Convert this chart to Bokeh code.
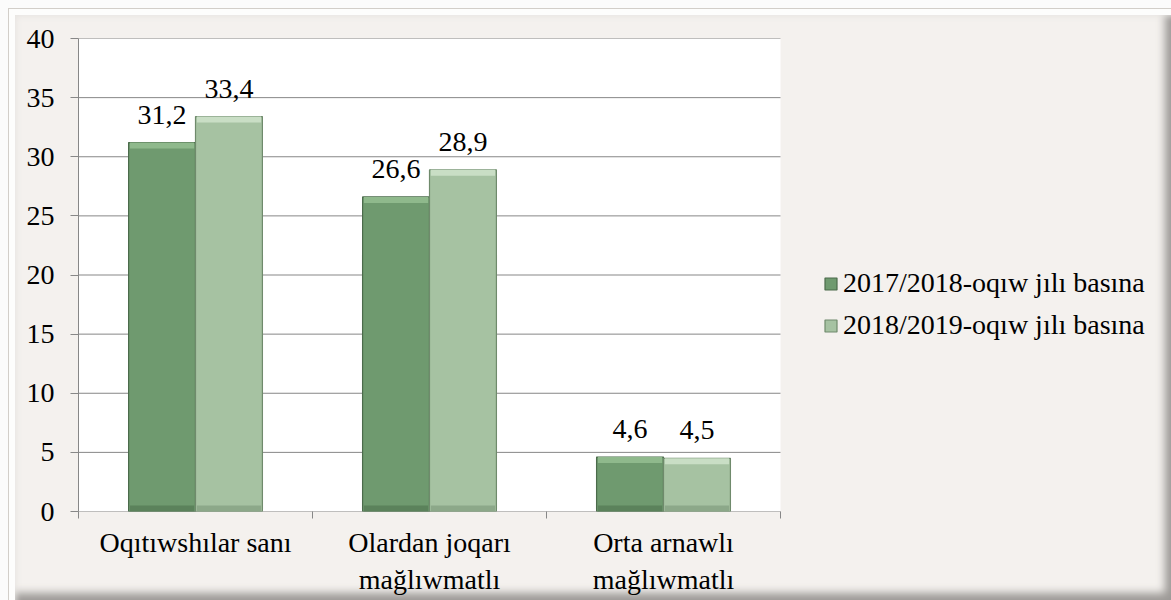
from bokeh.plotting import figure
from bokeh.models import ColumnDataSource, FixedTicker, Range1d, Legend, LegendItem
from bokeh.core.properties import value
from bokeh.embed import file_html
from bokeh.resources import INLINE

categories = ["Oqıtıwshılar sanı", "Olardan joqarı\nmağlıwmatlı", "Orta arnawlı\nmağlıwmatlı"]
series_names = ["2017/2018-oqıw jılı basına", "2018/2019-oqıw jılı basına"]
values_2017 = [31.2, 26.6, 4.6]
values_2018 = [33.4, 28.9, 4.5]
y_ticks = [0, 5, 10, 15, 20, 25, 30, 35, 40]

FONT = "Liberation Serif"
BG = "#f4f1ee"
DARK = "#6f9a6f"
DARK_LINE = "#4b6b4b"
DARK_HI = "#8fb98c"
DARK_LO = "#5b825b"
LIGHT = "#a6c2a2"
LIGHT_LINE = "#6f8a6c"
LIGHT_HI = "#c9dec5"
LIGHT_LO = "#8ca889"
GRID = "#878787"

W, H = 1171, 600
LEFT, TOP, PLOT_RIGHT, BOTTOM = 78, 38, 780, 511
BEVEL_PX = 6

n = len(categories)
ymax = y_ticks[-1]
centers = [i + 0.5 for i in range(n)]
bar_w = 0.286
dodge = bar_w / 2
x_end = n * (W - LEFT) / (PLOT_RIGHT - LEFT)
bevel = BEVEL_PX * ymax / (BOTTOM - TOP)

def fmt(v):
    return ("%.1f" % v).replace(".", ",")

def make_src(vals, shift):
    return ColumnDataSource(dict(
        x=[c + shift for c in centers], top=vals,
        hi_bottom=[v - bevel for v in vals],
        lo_top=[bevel for v in vals],
        lab=[fmt(v) for v in vals]))

src1 = make_src(values_2017, -dodge)
src2 = make_src(values_2018, dodge)

p = figure(width=W, height=H, output_backend="svg", toolbar_location=None,
           x_range=Range1d(0, x_end), y_range=Range1d(0, ymax),
           min_border_left=LEFT, min_border_right=0, min_border_top=TOP,
           min_border_bottom=H - BOTTOM,
           border_fill_alpha=0, background_fill_alpha=0, outline_line_color=None)
p.styles = {
    "background-color": BG,
    "box-shadow": ("inset 8px 8px 0 0 #fbfbfb, inset 9px 9px 0 0 #d2cec9, "
                   "inset 15px 15px 0 0 #fdfdfc, inset 20px 20px 6px -4px #e6e3e0, "
                   "inset -9px -10px 8px -3px #9d9a97"),
}

# white plot area and gridlines
p.quad(left=[0], right=[n], bottom=[0], top=[ymax], fill_color="white", line_color=None)
p.segment(x0=[0] * len(y_ticks), x1=[n] * len(y_ticks), y0=y_ticks, y1=y_ticks,
          line_color=GRID, line_width=1)

r1 = p.vbar(x="x", top="top", width=bar_w, source=src1, fill_color=DARK,
            line_color=DARK_LINE, line_width=1.2)
r2 = p.vbar(x="x", top="top", width=bar_w, source=src2, fill_color=LIGHT,
            line_color=LIGHT_LINE, line_width=1.2)
# bevel highlights / shadows
for s, hi, lo in ((src1, DARK_HI, DARK_LO), (src2, LIGHT_HI, LIGHT_LO)):
    p.vbar(x="x", bottom="hi_bottom", top="top", width=bar_w * 0.96, source=s,
           fill_color=hi, line_color=None)
    p.vbar(x="x", bottom=0, top="lo_top", width=bar_w * 0.96, source=s,
           fill_color=lo, line_color=None)

for s in (src1, src2):
    p.text(x="x", y="top", text="lab", source=s, text_align="center",
           text_baseline="alphabetic", y_offset=-28, text_font=value(FONT),
           text_font_size="28px", text_color="black")

# axes
yax = p.yaxis[0]
yax.ticker = FixedTicker(ticks=y_ticks)
yax.major_tick_in = 0
yax.major_tick_out = 8
yax.minor_tick_line_color = None
yax.axis_line_color = GRID
yax.major_tick_line_color = GRID
yax.major_label_text_font = FONT
yax.major_label_text_font_size = "28px"
yax.major_label_text_color = "black"
yax.major_label_standoff = 16

xax = p.xaxis[0]
xax.ticker = FixedTicker(ticks=centers, minor_ticks=list(range(n + 1)))
xax.major_label_overrides = {c: lab for c, lab in zip(centers, categories)}
xax.major_tick_line_color = None
xax.major_tick_in = 0
xax.major_tick_out = 0
xax.minor_tick_in = 0
xax.minor_tick_out = 7
xax.minor_tick_line_color = GRID
xax.axis_line_color = None
xax.major_label_text_font = FONT
xax.major_label_text_font_size = "28px"
xax.major_label_text_color = "black"
xax.major_label_standoff = 8

p.xgrid.grid_line_color = None
p.ygrid.grid_line_color = None

legend = Legend(items=[LegendItem(label=series_names[0], renderers=[r1]),
                       LegendItem(label=series_names[1], renderers=[r2])],
                location=(823 - LEFT, 170), orientation="vertical",
                label_text_font=FONT, label_text_font_size="28px",
                label_text_color="black", glyph_width=15, glyph_height=15,
                label_standoff=5, spacing=10, padding=0, margin=0,
                border_line_color=None, background_fill_alpha=0)
p.add_layout(legend)

open("out.html", "w").write(file_html(p, INLINE))
